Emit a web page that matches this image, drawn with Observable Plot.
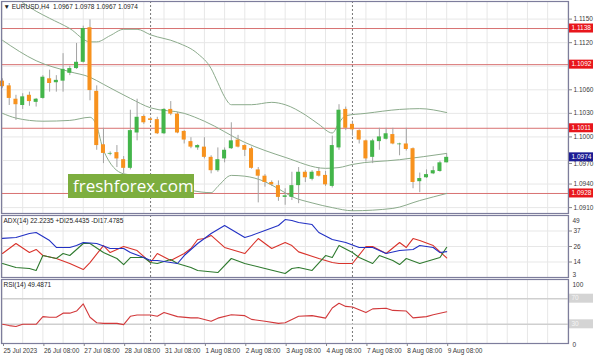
<!DOCTYPE html>
<html><head><meta charset="utf-8">
<script src="https://cdn.jsdelivr.net/npm/d3@7"></script>
<script src="https://cdn.jsdelivr.net/npm/@observablehq/plot@0.6"></script>
<style>
body{margin:0;background:#fff;}
#wrap{position:relative;width:594px;height:358px;overflow:hidden;background:#fff;}
#wrap svg{position:absolute;left:0;}
.wm{position:absolute;left:68px;top:174px;width:126px;height:24px;background:#7dae3f;color:#fff;font-family:"Open Sans",sans-serif;font-size:17px;line-height:23px;box-sizing:border-box;padding-left:5px;letter-spacing:0px;}
</style></head><body><div id="wrap"></div>
<script>
// ---- Candles (EURUSD H4), bar index 0 = 25 Jul 08:00 ----
const opens  = [1.1071,1.1065,1.1048,1.1040,1.1053,1.1044,1.1049,1.1074,1.1069,1.1071,1.1081,1.1087,1.1095,1.1139,1.1058,1.0990,1.0978,1.0980,1.0971,1.0960,1.1005,1.1026,1.1023,1.1022,1.1004,1.1035,1.1029,1.1007,1.0994,1.0986,1.0987,1.0974,1.0957,1.0972,1.0985,1.0996,1.0989,1.0985,1.0958,1.0950,1.0942,1.0938,1.0923,1.0923,1.0938,1.0955,1.0946,1.0956,1.0951,1.0937,1.0986,1.1035,1.1016,1.1008,1.0995,1.0974,1.0994,1.0997,1.1003,1.0990,1.0991,1.0985,1.0943,1.0948,1.0953,1.0956,1.0967];
const highs  = [1.1074,1.1068,1.1053,1.1055,1.1057,1.1049,1.1078,1.1085,1.1078,1.1106,1.1090,1.1119,1.1141,1.1149,1.1065,1.1011,1.0981,1.0989,1.0975,1.1034,1.1048,1.1028,1.1025,1.1025,1.1036,1.1045,1.1031,1.1008,1.0999,1.0990,1.0999,1.0976,1.0986,1.0986,1.1018,1.1002,1.0990,1.0987,1.0961,1.0952,1.0944,1.0944,1.0934,1.0955,1.0961,1.0957,1.0957,1.0961,1.0956,1.1001,1.1041,1.1038,1.1020,1.1009,1.0996,1.0997,1.1011,1.1011,1.1011,1.0992,1.1011,1.0986,1.0954,1.0958,1.0962,1.0969,1.0978];
const lows   = [1.1062,1.1040,1.1021,1.1035,1.1039,1.1038,1.1048,1.1057,1.1057,1.1057,1.1078,1.1086,1.1094,1.1046,1.0983,1.0966,1.0976,1.0961,1.0953,1.0958,1.0995,1.1016,1.1019,1.1003,1.1003,1.1027,1.1004,1.0991,1.0985,1.0983,1.0972,1.0953,1.0955,1.0967,1.0984,1.0986,1.0975,1.0959,1.0916,1.0936,1.0937,1.0918,1.0913,1.0919,1.0915,1.0942,1.0944,1.0949,1.0937,1.0935,1.0983,1.1008,1.1001,1.0991,1.0968,1.0966,1.0983,1.0996,1.0990,1.0976,1.0982,1.0934,1.0929,1.0947,1.0952,1.0955,1.0967];
const closes = [1.1064,1.1049,1.1041,1.1051,1.1045,1.1048,1.1076,1.1068,1.1072,1.1086,1.1087,1.1095,1.1138,1.1059,1.0989,1.0979,1.0979,1.0972,1.0960,1.1008,1.1025,1.1018,1.1021,1.1004,1.1035,1.1029,1.1005,1.0996,1.0987,1.0989,1.0974,1.0957,1.0971,1.0983,1.0995,1.0987,1.0983,1.0960,1.0950,1.0942,1.0939,1.0923,1.0925,1.0938,1.0955,1.0948,1.0955,1.0950,1.0939,1.0989,1.1034,1.1011,1.1009,1.0996,1.0972,1.0995,1.1000,1.1004,1.0991,1.0991,1.0984,1.0942,1.0947,1.0952,1.0957,1.0967,1.0974];

// ---- Bollinger bands: [bar index, price] ----
const bbUpper = [[3,1.1171],[5,1.1160],[7,1.1151],[10,1.1138],[13,1.1121],[14,1.1121],[16,1.1129],[18,1.1137],[20,1.1137],[22,1.1130],[26,1.1120],[29,1.1106],[31,1.1087],[32,1.1069],[33,1.1051],[34,1.1041],[37,1.1041],[40,1.1044],[42,1.1041],[45,1.1028],[47,1.1016],[49,1.1005],[50,1.1018],[51,1.1027],[54,1.1030],[59,1.1035],[62,1.1036],[66,1.1031]];
const bbMiddle = [[0,1.1123],[5,1.1097],[10,1.1083],[13,1.1076],[15,1.1067],[19,1.1049],[22,1.1037],[27,1.1030],[30,1.1020],[36,1.0993],[42,1.0974],[48,1.0960],[50,1.0961],[52,1.0965],[59,1.0971],[66,1.0979]];
const bbLower = [[0,1.1030],[2,1.1024],[6,1.1020],[10,1.1021],[13,1.1025],[14,1.1014],[15,1.0983],[18,1.0953],[21,1.0950],[24,1.0942],[28,1.0932],[31,1.0929],[32,1.0937],[34,1.0951],[36,1.0950],[39,1.0943],[41,1.0934],[43,1.0924],[46,1.0916],[49,1.0910],[52,1.0906],[58,1.0909],[62,1.0919],[66,1.0928]];

// ---- Levels and ticks ----
const levels = [1.1138, 1.1092, 1.1011, 1.0928];
const levelLabels = ["1.1138", "1.1092", "1.1011", "1.0928"];
const lastPrice = 1.0974;
const priceGrid = [1.1150,1.1120,1.1090,1.1060,1.1030,1.1000,1.0970,1.0940,1.0910];
const priceTicks = [1.1150,1.1120,1.1060,1.1030,1.1000,1.0940,1.0910];
const hiddenTick = [1.0970];
const dateTicks = [0,6,12,18,24,30,36,42,48,54,60,66];
const dateLabels = ["25 Jul 2023","26 Jul 08:00","27 Jul 08:00","28 Jul 08:00","31 Jul 08:00","1 Aug 08:00","2 Aug 08:00","3 Aug 08:00","4 Aug 08:00","7 Aug 08:00","8 Aug 08:00","9 Aug 08:00"];
const weekSeparators = [22, 52];

// ---- ADX(14): [bar index, value] ----
const adxMain = [[0,32.0],[2,32.7],[3,34.2],[4,35.6],[5,36.4],[7,30.4],[8,25.3],[10,25.3],[11,26.7],[12,29.0],[14,28.2],[16,24.5],[18,24.5],[19,21.5],[21,17.8],[22,15.6],[23,15.6],[25,14.1],[26,13.4],[27,19.3],[29,28.2],[31,35.6],[33,41.6],[34,38.6],[36,32.7],[37,34.2],[39,37.9],[41,41.6],[42,46.0],[43,45.3],[44,43.8],[46,42.3],[47,36.4],[49,31.2],[51,29.0],[53,25.3],[55,25.3],[57,20.8],[59,23.0],[61,23.8],[62,26.7],[64,25.3],[65,21.5],[66,22.2]];
const adxMinusDI = [[0,20.8],[2,28.2],[4,21.5],[5,23.8],[6,19.3],[8,17.1],[10,13.4],[12,8.9],[13,14.1],[15,26.7],[16,21.5],[18,26.0],[20,23.0],[22,14.1],[23,20.8],[25,15.6],[27,20.8],[28,24.5],[29,31.2],[30,31.9],[31,34.2],[33,25.3],[36,20.8],[38,31.9],[40,24.5],[42,29.0],[43,26.7],[44,22.0],[47,17.1],[49,14.1],[50,13.4],[52,13.4],[54,26.0],[55,26.0],[57,20.8],[59,29.0],[60,25.3],[61,31.9],[62,30.4],[64,26.7],[66,17.5]];
const adxPlusDI = [[0,13.4],[2,10.4],[4,9.7],[5,8.2],[6,19.3],[8,17.1],[9,20.8],[10,19.3],[12,28.2],[13,28.2],[15,21.5],[17,17.1],[18,12.6],[19,17.8],[21,17.8],[22,14.1],[23,13.4],[25,16.4],[26,13.4],[28,10.4],[29,8.2],[32,6.7],[34,17.1],[36,13.4],[39,9.7],[42,6.0],[43,9.7],[44,10.4],[46,8.2],[48,19.3],[49,17.8],[50,26.7],[52,21.5],[53,17.8],[55,13.4],[56,19.3],[58,15.6],[59,12.6],[60,17.1],[62,13.4],[64,16.4],[65,17.8],[66,25.4]];
const adxTickVals = [49, 37.5, 26, 14.5, 3];
const adxTickLabels = ["49", "37", "26", "14", "3"];

// ---- RSI(14): [bar index, value] ----
const rsi = [[0,30],[1,28],[2,26.6],[3,30],[5,30],[6,42],[7,41],[8,41],[9,47.4],[10,47.4],[11,50.7],[12,61.8],[13,41],[14,32.4],[15,31.4],[17,31.4],[18,29.5],[19,42.5],[20,44.5],[22,44.5],[23,42.5],[24,48.3],[26,42],[28,40.1],[29,40.1],[31,34.8],[32,39.6],[34,44.9],[36,43.5],[37,37.7],[39,34.8],[41,31.4],[42,32.4],[44,42.5],[46,43.5],[48,39.6],[49,55.5],[50,62.8],[51,58],[52,57],[54,48.3],[55,54.1],[57,55.1],[58,51.7],[60,50.7],[61,40.1],[63,42],[64,44.9],[66,49.5]];
const rsiLevels = [70, 30];

const headerMain = "\u25BC EURUSD,H4  1.0967 1.0978 1.0967 1.0974";
const headerAdx = "ADX(14) 22.2235 +DI25.4435 -DI17.4785";
const headerRsi = "RSI(14) 49.4871";

// ---- styling ----
const W = 594, ML = 1, MR = 26;
const xDomain = [-0.149, 84.1];
const gridIdx = d3.range(0, 85, 3);
const C = {up:"#43b54a", down:"#f7921e", wick:"#a3a3a3", band:"#8cab8c", grid:"#e7e7e7", frame:"#7d7d9c", level:"#d87272", sep:"#555", text:"#3a3a3a"};
const font = {fontFamily:"Liberation Sans, Arial, sans-serif", fontSize:"6.5px", background:"transparent", overflow:"visible", color:C.text};

const candles = opens.map((o, i) => ({i, open:o, high:highs[i], low:lows[i], close:closes[i]}));

function boxes(items){
  return (index, scales, values, dims) => {
    const g = d3.create("svg:g").attr("text-anchor", "start");
    const x0 = dims.width - dims.marginRight + 1;
    for (const it of items){
      const y = scales.y(it.v);
      g.append("rect").attr("x", x0).attr("y", y - 4.5).attr("width", 24).attr("height", 9).attr("fill", it.bg);
      g.append("text").attr("x", x0 + 2.5).attr("y", y).attr("dy", "0.35em").attr("fill", it.fg || "#fff")
        .attr("text-anchor", "start").attr("font-size", "6.5px").attr("font-family", "Liberation Sans, Arial, sans-serif").text(it.t);
    }
    return g.node();
  };
}

const wrap = document.getElementById("wrap");
function place(svg, top){ svg.style.top = top + "px"; wrap.appendChild(svg); }

// ---- Main panel ----
const main = Plot.plot({
  width: W, height: 214, marginLeft: ML, marginRight: MR, marginTop: 1, marginBottom: 1,
  style: font,
  x: {domain: xDomain, axis: null},
  y: {domain: [1.09025, 1.11724], axis: null},
  marks: [
    Plot.ruleX(gridIdx, {stroke: C.grid}),
    Plot.ruleY(priceGrid, {stroke: C.grid}),
    Plot.ruleX(weekSeparators, {stroke: C.sep, strokeDasharray: "2,2", strokeWidth: 0.8}),
    Plot.ruleY(levels, {stroke: C.level, strokeWidth: 1}),
    Plot.line(bbUpper, {x: d => d[0], y: d => d[1], stroke: C.band, strokeWidth: 1, curve: "monotone-x", clip: true}),
    Plot.line(bbMiddle, {x: d => d[0], y: d => d[1], stroke: C.band, strokeWidth: 1, curve: "monotone-x", clip: true}),
    Plot.line(bbLower, {x: d => d[0], y: d => d[1], stroke: C.band, strokeWidth: 1, curve: "monotone-x", clip: true}),
    Plot.ruleX(candles, {x: "i", y1: "low", y2: "high", stroke: C.wick, strokeWidth: 1}),
    Plot.rect(candles, {x1: d => d.i - 0.3, x2: d => d.i + 0.3, y1: "open", y2: "close", fill: d => d.close >= d.open ? C.up : C.down}),
    Plot.text([headerMain], {frameAnchor: "top-left", dx: 2, dy: 3, lineAnchor: "top", textAnchor: "start", fill: "#222", fontSize: 6.5}),
    Plot.axisY(priceTicks, {anchor: "right", tickSize: 3, tickPadding: 2, tickFormat: d3.format(".4f"), fill: C.text, stroke: "#888", fontSize: 6.5}),
    Plot.axisY(hiddenTick, {anchor: "right", tickSize: 3, tickPadding: 2, dy: 3, tickFormat: d3.format(".4f"), fill: C.text, stroke: "#888", fontSize: 6.5}),
    Plot.frame({stroke: C.frame, strokeWidth: 1.2}),
    boxes(levels.map((v, k) => ({v, t: levelLabels[k], bg: "#e8161c"})).concat([{v: lastPrice, t: lastPrice.toFixed(4), bg: "#1c1c94"}]))
  ]
});
place(main, 0);

// ---- ADX panel ----
const adx = Plot.plot({
  width: W, height: 64, marginLeft: ML, marginRight: MR, marginTop: 1, marginBottom: 1,
  style: font,
  x: {domain: xDomain, axis: null},
  y: {domain: [3, 49], axis: null},
  marks: [
    Plot.ruleX(gridIdx, {stroke: C.grid}),
    Plot.ruleY(adxTickVals.slice(1, 4), {stroke: C.grid}),
    Plot.ruleX(weekSeparators, {stroke: C.sep, strokeDasharray: "2,2", strokeWidth: 0.8}),
    Plot.line(adxMinusDI, {x: d => d[0], y: d => d[1], stroke: "#d9342c", strokeWidth: 1.1}),
    Plot.line(adxPlusDI, {x: d => d[0], y: d => d[1], stroke: "#2f7a2f", strokeWidth: 1.1}),
    Plot.line(adxMain, {x: d => d[0], y: d => d[1], stroke: "#2231c4", strokeWidth: 1.1}),
    Plot.text([headerAdx], {frameAnchor: "top-left", dx: 2, dy: 3, lineAnchor: "top", textAnchor: "start", fill: "#222", fontSize: 6.5}),
    Plot.axisY(adxTickVals.slice(1, 4), {anchor: "right", tickSize: 3, tickPadding: 2, tickFormat: d => adxTickLabels[adxTickVals.indexOf(d)], fill: C.text, stroke: "#888", fontSize: 6.5}),
    Plot.text([adxTickVals[0]], {y: d => d, text: () => adxTickLabels[0], frameAnchor: "right", dx: 4, dy: 5, textAnchor: "start", fill: C.text, fontSize: 6.5}),
    Plot.text([adxTickVals[4]], {y: d => d, text: () => adxTickLabels[4], frameAnchor: "right", dx: 4, dy: -3, textAnchor: "start", fill: C.text, fontSize: 6.5}),
    Plot.frame({stroke: C.frame, strokeWidth: 1.2})
  ]
});
place(adx, 214);

// ---- RSI panel + date axis ----
const rsiPlot = Plot.plot({
  width: W, height: 80, marginLeft: ML, marginRight: MR, marginTop: 1, marginBottom: 15,
  style: font,
  x: {domain: xDomain, axis: null},
  y: {domain: [0, 100], axis: null},
  marks: [
    Plot.ruleX(gridIdx, {stroke: C.grid}),
    Plot.ruleX(weekSeparators, {stroke: C.sep, strokeDasharray: "2,2", strokeWidth: 0.8}),
    Plot.ruleY(rsiLevels, {stroke: "#cfcfcf", strokeWidth: 1.5}),
    Plot.line(rsi, {x: d => d[0], y: d => d[1], stroke: "#d2393b", strokeWidth: 1.1}),
    Plot.text([headerRsi], {frameAnchor: "top-left", dx: 2, dy: 3, lineAnchor: "top", textAnchor: "start", fill: "#222", fontSize: 6.5}),
    Plot.text([100], {y: d => d, text: d => String(d), frameAnchor: "right", dx: 4, dy: 5, textAnchor: "start", fill: C.text, fontSize: 6.5}),
    Plot.text([0], {y: d => d, text: d => String(d), frameAnchor: "right", dx: 4, dy: 1, textAnchor: "start", fill: C.text, fontSize: 6.5}),
    boxes(rsiLevels.map(v => ({v, t: String(v), bg: "#d4d4d4", fg: "#f4f4f4"}))),
    Plot.axisX(dateTicks, {anchor: "bottom", tickSize: 3, tickPadding: 2, textAnchor: "start", dx: 1, tickFormat: (d) => dateLabels[dateTicks.indexOf(d)], fill: C.text, stroke: "#888", fontSize: 6.5}),
    Plot.frame({stroke: C.frame, strokeWidth: 1.2})
  ]
});
place(rsiPlot, 278);

// ---- watermark ----
const wm = document.createElement("div");
wm.className = "wm";
wm.textContent = "freshforex.com";
wrap.appendChild(wm);
</script>
</body></html>
